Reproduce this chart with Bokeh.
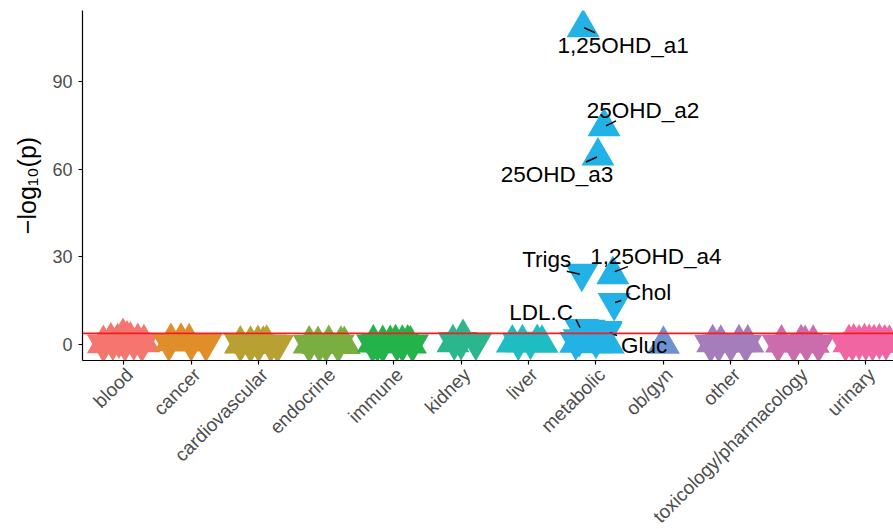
import math
from bokeh.plotting import figure
from bokeh.models import (Range1d, FixedTicker, Span, ColumnDataSource, LabelSet, LinearAxis)
from bokeh.core.properties import value
from bokeh.embed import file_html
from bokeh.resources import INLINE

# ---------------- data ----------------
categories = ["blood", "cancer", "cardiovascular", "endocrine", "immune", "kidney",
              "liver", "metabolic", "ob/gyn", "other", "toxicology/pharmacology", "urinary"]
cat_colors = ["#F4766F", "#E08E2A", "#B8A033", "#7BAE41", "#24B24B", "#2CB68E",
              "#1DBDC1", "#22B2E6", "#6E92CF", "#A57DBA", "#CB6DAC", "#F065A2"]

# per category: jitter offsets, -log10(p) values, direction (1 = up / positive, -1 = down)
blood_off = [-0.30, -0.19, -0.09, -0.01, 0.10, 0.21, 0.30, -0.30, -0.16, 0.02, 0.15, 0.27, -0.07, 0.05]
blood_val = [0.3, 1.2, 0.9, 2.7, 1.5, 1.0, 0.6, 0.2, 0.8, 0.5, 0.9, 0.3, 1.6, 1.9]
blood_dir = [1, 1, 1, 1, 1, 1, 1, -1, -1, -1, -1, -1, -1, 1]

cancer_off = [-0.30, -0.15, -0.03, -0.33, 0.00, 0.22]
cancer_val = [1.0, 1.1, 0.9, 0.5, 0.6, 0.4]
cancer_dir = [1, 1, 1, -1, -1, -1]

cardio_off = [-0.27, -0.12, -0.01, 0.07, 0.12, -0.27, -0.12, 0.00, 0.28, 0.18]
cardio_val = [0.2, 0.1, 0.3, 0.1, 0.4, 0.3, 0.1, 0.2, 0.0, 0.2]
cardio_dir = [1, 1, 1, 1, 1, -1, -1, -1, -1, -1]

endo_off = [-0.25, -0.12, 0.04, 0.22, 0.27, -0.25, 0.00, 0.18, -0.10]
endo_val = [0.2, 0.0, 0.3, 0.1, 0.0, 0.1, 0.3, 0.1, 0.2]
endo_dir = [1, 1, 1, 1, 1, -1, -1, -1, -1]

immune_off = [-0.30, -0.16, 0.03, 0.13, 0.21, 0.25, -0.05, -0.31, -0.16, 0.13, 0.28, 0.05, -0.24]
immune_val = [0.5, 0.3, 0.6, 0.4, 0.5, 0.2, 0.3, 0.2, 0.1, 0.3, 0.2, 0.5, 0.4]
immune_dir = [1, 1, 1, 1, 1, 1, 1, -1, -1, -1, -1, -1, -1]

kidney_off = [0.03, -0.12, 0.00, 0.22, -0.10]
kidney_val = [2.4, 0.6, 1.0, 0.8, 0.9]
kidney_dir = [1, 1, -1, -1, -1]

liver_off = [-0.24, -0.09, 0.13, 0.20, 0.03, -0.15]
liver_val = [0.5, 0.6, 0.7, 0.4, 1.1, 0.8]
liver_dir = [1, 1, 1, 1, -1, -1]

metab_off = [-0.30, -0.20, -0.10, -0.25, 0.05, 0.15, 0.00, -0.30, -0.15, 0.00, 0.10, 0.18, -0.05]
metab_val = [1.0, 5.5, 5.2, 2.0, 4.5, 4.2, 1.5, 0.4, 0.8, 0.3, 0.6, 0.2, 1.0]
metab_dir = [-1, -1, -1, -1, -1, -1, -1, 1, 1, 1, 1, 1, 1]

obgyn_off = [0.00]
obgyn_val = [0.1]
obgyn_dir = [1]

other_off = [-0.27, -0.15, 0.12, 0.25, -0.18, 0.22, 0.00, -0.30]
other_val = [0.6, 0.4, 0.6, 0.5, 0.2, 0.1, 0.3, 0.1]
other_dir = [1, 1, 1, 1, -1, -1, -1, -1]

tox_off = [-0.25, 0.04, 0.22, 0.10, -0.30, -0.07, 0.12, 0.30]
tox_val = [0.5, 0.6, 0.4, 0.3, 0.2, 0.1, 0.3, 0.2]
tox_dir = [1, 1, 1, 1, -1, -1, -1, -1]

urin_off = [-0.25, -0.18, -0.10, -0.02, 0.05, 0.12, 0.20, 0.28, 0.35, -0.30, -0.20, -0.10, 0.00, 0.10, 0.20, 0.30]
urin_val = [0.6, 0.8, 0.5, 0.9, 0.7, 0.6, 0.8, 0.5, 0.4, 0.5, 0.6, 1.0, 0.8, 0.7, 1.2, 0.9]
urin_dir = [1, 1, 1, 1, 1, 1, 1, 1, 1, -1, -1, -1, -1, -1, -1, -1]

# labelled metabolic hits
lab_names = ["1,25OHD_a1", "25OHD_a2", "25OHD_a3", "Trigs", "1,25OHD_a4", "Chol", "LDL.C", "Gluc"]
lab_off = [-0.19, 0.12, 0.03, -0.21, 0.25, 0.27, -0.22, 0.15]
lab_val = [108.4, 74.5, 64.5, 24.4, 23.9, 14.4, 5.1, 4.8]
lab_dir = [1, 1, 1, -1, 1, -1, -1, -1]

threshold = 3.8
y_ticks = [0, 30, 60, 90]
y_title = "\u2212log\u2081\u2080(p)"

# ---------------- layout / style ----------------
# label text offsets (screen px, y up) relative to the point
lab_dx = [40, 39, -41, -35, 43, 34, -40, 38]
lab_dy = [-18, 16, -18, 14, 18, 10, 17, -15]
# connector segment start/end offsets (screen px, y down)
seg_a = [(1, 0), (2, -1), (-1, 1), (-2, 1), (2, -3), (1, 0), (-1, -2), (4, 2)]
seg_b = [(12, 5), (12, -6), (-12, 6), (-15, -2), (15, -8), (7, -2), (-5, -10), (11, 5)]

W, H = 893, 529
X0, X1 = 0.39, 12.41
Y0, Y1 = -5.47, 114.3
FW, FH = 811, 350
LEFT, TOP = 82, 10
pxu_x = FW / (X1 - X0)
pxu_y = FH / (Y1 - Y0)

FONT = "Liberation Sans"
MSIZE = 33

p = figure(frame_width=FW, frame_height=FH, output_backend="svg", toolbar_location=None,
           x_range=Range1d(X0, X1), y_range=Range1d(Y0, Y1),
           min_border_left=LEFT, min_border_right=0, min_border_top=TOP,
           min_border_bottom=H - TOP - FH)
p.outline_line_color = None
p.xgrid.visible = False
p.ygrid.visible = False
p.background_fill_color = "white"
p.border_fill_color = "white"

cat_data = [
    (blood_off, blood_val, blood_dir), (cancer_off, cancer_val, cancer_dir),
    (cardio_off, cardio_val, cardio_dir), (endo_off, endo_val, endo_dir),
    (immune_off, immune_val, immune_dir), (kidney_off, kidney_val, kidney_dir),
    (liver_off, liver_val, liver_dir), (metab_off, metab_val, metab_dir),
    (obgyn_off, obgyn_val, obgyn_dir), (other_off, other_val, other_dir),
    (tox_off, tox_val, tox_dir), (urin_off, urin_val, urin_dir),
]

def mk(d):
    return "triangle" if d > 0 else "inverted_triangle"

metab_idx = categories.index("metabolic")
for i, (offs, vals, dirs) in enumerate(cat_data):
    xs = [i + 1 + o for o in offs]
    src = ColumnDataSource(dict(x=xs, y=vals, m=[mk(d) for d in dirs]))
    p.scatter(x="x", y="y", marker="m", size=MSIZE, source=src,
              fill_color=cat_colors[i], line_color=None)
    if i == metab_idx:
        lx = [i + 1 + o for o in lab_off]
        lsrc = ColumnDataSource(dict(x=lx, y=lab_val, m=[mk(d) for d in lab_dir]))
        p.scatter(x="x", y="y", marker="m", size=MSIZE, source=lsrc,
                  fill_color=cat_colors[i], line_color=None)

# threshold line
p.add_layout(Span(location=threshold, dimension="width", line_color="#F21D24", line_width=1.6))

# connectors
lx = [metab_idx + 1 + o for o in lab_off]
sx0 = [x + a[0] / pxu_x for x, a in zip(lx, seg_a)]
sy0 = [y - a[1] / pxu_y for y, a in zip(lab_val, seg_a)]
sx1 = [x + b[0] / pxu_x for x, b in zip(lx, seg_b)]
sy1 = [y - b[1] / pxu_y for y, b in zip(lab_val, seg_b)]
p.segment(x0=sx0, y0=sy0, x1=sx1, y1=sy1, line_color="black", line_width=1.5)

# labels
tsrc = ColumnDataSource(dict(x=lx, y=lab_val, t=lab_names, dx=lab_dx, dy=lab_dy))
p.add_layout(LabelSet(x="x", y="y", text="t", x_offset="dx", y_offset="dy", source=tsrc,
                      text_align="center", text_baseline="middle",
                      text_font=value(FONT), text_font_size="22.5px", text_color="black"))

# axes
for ax in (p.xaxis[0], p.yaxis[0]):
    ax.axis_line_color = "black"
    ax.axis_line_width = 1.2
    ax.major_tick_line_color = "black"
    ax.major_tick_line_width = 1.2
    ax.major_tick_in = 0
    ax.major_tick_out = 4
    ax.minor_tick_line_color = None
    ax.major_label_text_color = "#4D4D4D"
    ax.major_label_text_font = FONT
    ax.major_label_text_font_size = "18px"

cat_ticks = list(range(1, len(categories) + 1))
p.xaxis.ticker = FixedTicker(ticks=cat_ticks)
p.xaxis.major_label_overrides = {t: "" for t in cat_ticks}
p.xaxis.major_label_standoff = 0
p.xaxis.major_label_text_font_size = "1px"

# category labels on a second (line-less) axis, nudged right like ggplot hjust=1
XL_DX = 6
lab_ticks = [t + XL_DX / pxu_x for t in cat_ticks]
cat_axis = LinearAxis(ticker=FixedTicker(ticks=lab_ticks),
                      major_label_overrides={t: c for t, c in zip(lab_ticks, categories)})
cat_axis.axis_line_color = None
cat_axis.major_tick_line_color = None
cat_axis.major_tick_in = 0
cat_axis.major_tick_out = 0
cat_axis.minor_tick_line_color = None
cat_axis.major_label_orientation = math.pi / 4
cat_axis.major_label_standoff = 7
cat_axis.major_label_text_color = "#4D4D4D"
cat_axis.major_label_text_font = FONT
cat_axis.major_label_text_font_size = "19px"
p.add_layout(cat_axis, "below")

p.yaxis.ticker = FixedTicker(ticks=y_ticks)
p.yaxis.major_label_standoff = 6
p.yaxis.axis_label = y_title
p.yaxis.axis_label_text_font = FONT
p.yaxis.axis_label_text_font_size = "25px"
p.yaxis.axis_label_text_font_style = "normal"
p.yaxis.axis_label_text_color = "black"
p.yaxis.axis_label_standoff = 8

open("out.html", "w").write(file_html(p, INLINE))
